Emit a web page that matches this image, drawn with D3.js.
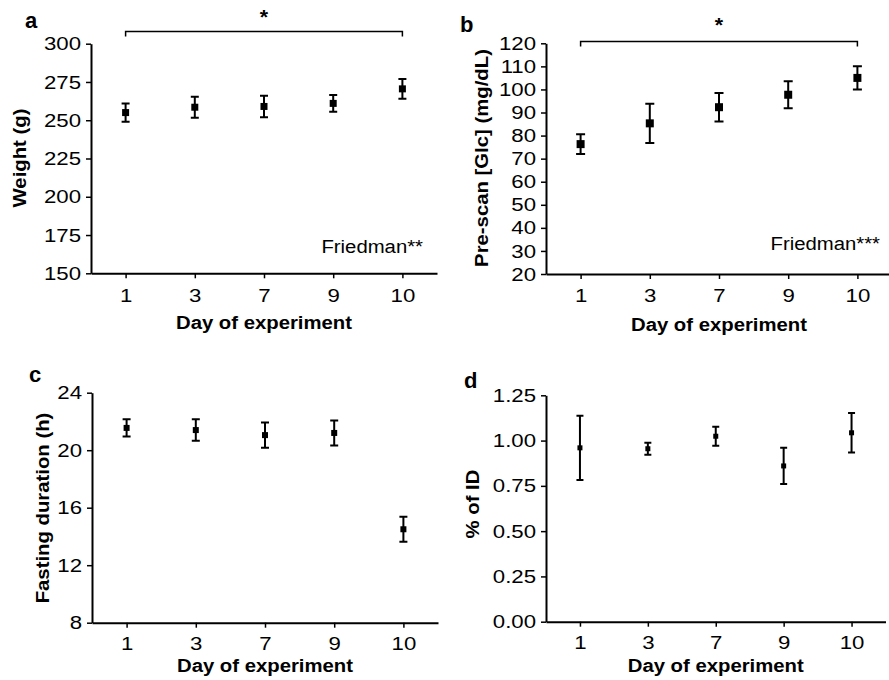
<!DOCTYPE html>
<html lang="en">
<head>
<meta charset="UTF-8">
<title>Day of experiment panels</title>
<script src="https://d3js.org/d3.v7.min.js"></script>
<style>
    body { margin: 0; background: #fff; }
    svg { display: block; font-family: "Liberation Sans", Arial, Helvetica, sans-serif; }
    .domain { stroke: #000; stroke-width: 2px; }
    .tick line { stroke: #000; stroke-width: 1.5px; }
    .tick text { font-size: 19px; fill: #000; }
    .title { font-size: 19px; font-weight: bold; }
    .note { font-size: 19px; }
    .star { font-size: 20px; font-weight: bold; }
    .panel-label { font-size: 22px; font-weight: bold; }
    .err { stroke: #000; stroke-width: 2px; fill: none; }
    .bracket { stroke: #000; stroke-width: 1.5px; fill: none; }
</style>
</head>
<body>
<svg width="889" height="680"></svg>
<script>
    // days on the x axis (shared by all four panels)
    var days = ["1", "3", "7", "9", "10"];

    // a - body weight
    var weightMean = [255, 258.5, 259, 261, 270.5];
    var weightErr = [6, 6.8, 7, 5.5, 6.4];
    var weightTicks = [150, 175, 200, 225, 250, 275, 300];

    // b - pre-scan glucose
    var glcMean = [76.3, 85.3, 92.3, 97.7, 105];
    var glcErr = [4.3, 8.5, 6.2, 5.8, 5];
    var glcTicks = [20, 30, 40, 50, 60, 70, 80, 90, 100, 110, 120];

    // c - fasting duration
    var fastMean = [21.55, 21.4, 21.05, 21.2, 14.5];
    var fastErr = [0.6, 0.75, 0.88, 0.87, 0.87];
    var fastTicks = [8, 12, 16, 20, 24];

    // d - % of injected dose
    var idMean = [0.96, 0.955, 1.024, 0.86, 1.043];
    var idErr = [0.177, 0.033, 0.052, 0.1, 0.109];
    var idTicks = [0, 0.25, 0.5, 0.75, 1, 1.25];

    var svg = d3.select("svg");
    var SX = 1.07;      // titles / notes are a little wider than Arial
    var SX_TICK = 1.17; // tick numbers even more so

    function addText(g, x, y, str, cls, anchor, rot) {
        return g.append("text")
            .attr("class", cls)
            .attr("text-anchor", anchor || "middle")
            .attr("dy", rot ? "0.35em" : null)
            .attr("transform", "translate(" + x + "," + y + ")" + (rot ? " rotate(-90)" : "") + " scale(" + SX + ",1)")
            .text(str);
    }

    function panel(p) {
        var g = svg.append("g");
        var x = d3.scalePoint().domain(days).range([p.left, p.right]).padding(0.5);
        var y = d3.scaleLinear()
            .domain([p.ticks[0], p.ticks[p.ticks.length - 1]])
            .range([p.bottom, p.top]);

        var xa = g.append("g")
            .attr("transform", "translate(0," + p.bottom + ")")
            .call(d3.axisBottom(x).tickSize(5).tickPadding(p.xPad).tickSizeOuter(0));
        var ya = g.append("g")
            .attr("transform", "translate(" + p.left + ",0)")
            .call(d3.axisLeft(y).tickValues(p.ticks).tickFormat(p.fmt).tickSize(5).tickPadding(3.5).tickSizeOuter(0));
        xa.selectAll(".tick text").attr("transform", "scale(" + SX_TICK + ",1)");
        ya.selectAll(".tick text").attr("transform", "scale(" + SX_TICK + ",1)");

        // error bars + square markers
        var pts = g.append("g");
        p.mean.forEach(function (m, i) {
            var cx = x(days[i]), lo = y(m - p.err[i]), hi = y(m + p.err[i]), c = p.cap / 2;
            pts.append("path")
                .attr("class", "err")
                .attr("d", "M" + cx + "," + lo + "V" + hi +
                    "M" + (cx - c) + "," + hi + "H" + (cx + c) +
                    "M" + (cx - c) + "," + lo + "H" + (cx + c));
            pts.append("rect")
                .attr("x", cx - p.mk / 2)
                .attr("y", y(m) - p.mk / 2)
                .attr("width", p.mk)
                .attr("height", p.mk)
                .attr("fill", "#000");
        });

        addText(g, (p.left + p.right) / 2, p.xTitleY, "Day of experiment", "title");
        addText(g, p.yTitleX, p.yTitleY, p.yTitle, "title", "middle", true);
        g.append("text").attr("class", "panel-label")
            .attr("x", p.labX).attr("y", p.labY).text(p.label);

        if (p.bracketY) {
            var x0 = x(days[0]), x1 = x(days[days.length - 1]), by = p.bracketY;
            g.append("path").attr("class", "bracket")
                .attr("d", "M" + x0 + "," + (by + 5) + "V" + by + "H" + x1 + "V" + (by + 5));
            addText(g, (x0 + x1) / 2, p.starY, "*", "star");
        }
        if (p.note) {
            addText(g, p.noteX, p.noteY, p.note, "note", "end");
        }
    }

    panel({
        label: "a", labX: 25, labY: 28,
        left: 91, right: 437, top: 43.7, bottom: 273.3,
        ticks: weightTicks, fmt: d3.format("d"),
        mean: weightMean, err: weightErr, mk: 7, cap: 8, xPad: 10,
        yTitle: "Weight (g)", yTitleX: 19, yTitleY: 158,
        xTitleY: 329,
        bracketY: 31.5, starY: 24,
        note: "Friedman**", noteX: 423, noteY: 253
    });

    panel({
        label: "b", labX: 460, labY: 31.5,
        left: 546, right: 892, top: 43.3, bottom: 274,
        ticks: glcTicks, fmt: d3.format("d"),
        mean: glcMean, err: glcErr, mk: 8, cap: 9, xPad: 10,
        yTitle: "Pre-scan [Glc] (mg/dL)", yTitleX: 481, yTitleY: 158,
        xTitleY: 331,
        bracketY: 41.5, starY: 32,
        note: "Friedman***", noteX: 880, noteY: 250
    });

    panel({
        label: "c", labX: 29, labY: 381.5,
        left: 92, right: 438, top: 392.7, bottom: 622.7,
        ticks: fastTicks, fmt: d3.format("d"),
        mean: fastMean, err: fastErr, mk: 6, cap: 8, xPad: 9,
        yTitle: "Fasting duration (h)", yTitleX: 42, yTitleY: 508,
        xTitleY: 672
    });

    panel({
        label: "d", labX: 464, labY: 388,
        left: 546, right: 885.5, top: 395.3, bottom: 621.7,
        ticks: idTicks, fmt: d3.format(".2f"),
        mean: idMean, err: idErr, mk: 5, cap: 7, xPad: 9,
        yTitle: "% of ID", yTitleX: 472, yTitleY: 504,
        xTitleY: 672
    });
</script>
</body>
</html>
